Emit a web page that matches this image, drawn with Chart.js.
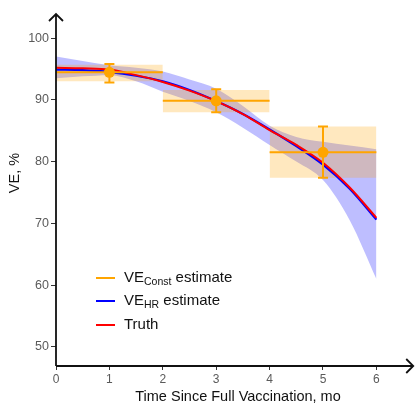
<!DOCTYPE html>
<html>
<head>
<meta charset="utf-8">
<script src="https://cdn.jsdelivr.net/npm/chart.js@4/dist/chart.umd.min.js"></script>
<style>
    html, body { margin: 0; padding: 0; background: #fff; }
    #wrap { width: 415px; height: 404px; position: relative; }
</style>
</head>
<body>
<div id="wrap"><canvas id="grafica"></canvas></div>
<script>
//--------Datos
const tiempos = [0, 0.5, 1, 1.5, 2, 2.5, 3, 3.5, 4, 4.5, 5, 5.5, 6]
const veReal = [95.2, 95.1, 94.9, 94.0, 92.9, 91.5, 89.8, 87.7, 85.1, 82.7, 79.8, 75.8, 70.9]
const veHR = [94.9, 94.8, 94.5, 93.9, 93.0, 91.6, 89.8, 87.7, 85.2, 82.5, 79.5, 75.6, 70.6]
const veHRInf = [93.5, 93.8, 94.0, 93.0, 91.3, 89.8, 88.0, 85.5, 82.7, 80.0, 77.0, 70.5, 61.0]
const veHRSup = [97.0, 96.3, 95.6, 95.2, 94.6, 93.3, 91.8, 89.0, 85.8, 84.0, 83.2, 82.6, 82.0]

const intervaloInicio = [0, 2, 4]
const intervaloFin = [2, 4, 6]
const veConst = [94.45, 89.85, 81.5]
const veConstInf = [93.0, 88.0, 77.4]
const veConstSup = [95.7, 91.6, 85.7]
const tiempoMedio = [1, 3, 5]
const errorInf = [92.8, 88.0, 77.4]
const errorSup = [95.8, 91.7, 85.7]

const ticksX = [0, 1, 2, 3, 4, 5, 6]
const ticksY = [50, 60, 70, 80, 90, 100]
const finFlechaX = 6.69

const NARANJA = '#FFA500'
const fuente = '"Liberation Sans", Arial, sans-serif'

//--------Datasets
const datasets = []

// banda del estimador HR
datasets.push({
    data: tiempos.map((t, i) => ({ x: t, y: veHRInf[i] })),
    borderWidth: 0, pointRadius: 0, fill: false, order: 10,
    cubicInterpolationMode: 'monotone'
})
datasets.push({
    data: tiempos.map((t, i) => ({ x: t, y: veHRSup[i] })),
    borderWidth: 0, pointRadius: 0, order: 10,
    fill: '-1', backgroundColor: 'rgba(40,40,255,0.3)',
    cubicInterpolationMode: 'monotone'
})

// cajas del estimador constante
intervaloInicio.forEach((ini, i) => {
    datasets.push({
        data: [{ x: ini, y: veConstInf[i] }, { x: intervaloFin[i], y: veConstInf[i] }],
        borderWidth: 0, pointRadius: 0, fill: false, order: 9
    })
    datasets.push({
        data: [{ x: ini, y: veConstSup[i] }, { x: intervaloFin[i], y: veConstSup[i] }],
        borderWidth: 0, pointRadius: 0, order: 9,
        fill: '-1', backgroundColor: 'rgba(255,165,0,0.25)'
    })
})

datasets.push({
    data: tiempos.map((t, i) => ({ x: t, y: veHR[i] })),
    borderColor: '#0000FF', borderWidth: 2.2, pointRadius: 0, fill: false, order: 3,
    cubicInterpolationMode: 'monotone'
})
datasets.push({
    data: tiempos.map((t, i) => ({ x: t, y: veReal[i] })),
    borderColor: '#FF0000', borderWidth: 2, pointRadius: 0, fill: false, order: 2,
    cubicInterpolationMode: 'monotone'
})

intervaloInicio.forEach((ini, i) => {
    datasets.push({
        data: [{ x: ini, y: veConst[i] }, { x: intervaloFin[i], y: veConst[i] }],
        borderColor: NARANJA, borderWidth: 2, pointRadius: 0, fill: false, order: 1
    })
})

datasets.push({
    data: tiempoMedio.map((t, i) => ({ x: t, y: veConst[i] })),
    showLine: false, pointRadius: 5.5, pointBackgroundColor: NARANJA,
    pointBorderWidth: 0, order: 0
})

//--------Plugins
const barrasError = {
    id: 'barrasError',
    beforeDatasetDraw(chart, args) {
        if (args.index !== datasets.length - 1) return
        const ctx = chart.ctx
        const x = chart.scales.x, y = chart.scales.y
        ctx.save()
        ctx.strokeStyle = NARANJA
        ctx.lineWidth = 2
        tiempoMedio.forEach((t, i) => {
            const px = x.getPixelForValue(t)
            const y1 = y.getPixelForValue(errorInf[i])
            const y2 = y.getPixelForValue(errorSup[i])
            ctx.beginPath()
            ctx.moveTo(px, y1); ctx.lineTo(px, y2)
            ctx.moveTo(px - 5, y1); ctx.lineTo(px + 5, y1)
            ctx.moveTo(px - 5, y2); ctx.lineTo(px + 5, y2)
            ctx.stroke()
        })
        ctx.restore()
    }
}

const ejesYLeyenda = {
    id: 'ejesYLeyenda',
    afterDraw(chart) {
        const ctx = chart.ctx
        const area = chart.chartArea
        const derecha = chart.scales.x.getPixelForValue(finFlechaX)
        ctx.save()
        // flechas
        ctx.strokeStyle = '#111'
        ctx.lineWidth = 1.8
        ctx.beginPath()
        ctx.moveTo(area.left, area.bottom); ctx.lineTo(area.left, area.top)
        ctx.moveTo(area.left - 7, area.top + 7); ctx.lineTo(area.left, area.top); ctx.lineTo(area.left + 7, area.top + 7)
        ctx.moveTo(area.left, area.bottom); ctx.lineTo(derecha, area.bottom)
        ctx.moveTo(derecha - 7, area.bottom - 7); ctx.lineTo(derecha, area.bottom); ctx.lineTo(derecha - 7, area.bottom + 7)
        ctx.stroke()

        // titulos de ejes
        ctx.fillStyle = '#111'
        ctx.font = '14.5px ' + fuente
        ctx.textAlign = 'center'
        ctx.textBaseline = 'middle'
        ctx.fillText('Time Since Full Vaccination, mo', 238, 397)
        ctx.translate(15, 173)
        ctx.rotate(-Math.PI / 2)
        ctx.fillText('VE, %', 0, 0)
        ctx.restore()

        // leyenda
        const items = [
            { color: NARANJA, base: 'VE', sub: 'Const', resto: ' estimate', y: 278 },
            { color: '#0000FF', base: 'VE', sub: 'HR', resto: ' estimate', y: 301 },
            { color: '#FF0000', base: 'Truth', sub: '', resto: '', y: 325 }
        ]
        ctx.save()
        ctx.textBaseline = 'middle'
        ctx.textAlign = 'left'
        items.forEach(item => {
            ctx.strokeStyle = item.color
            ctx.lineWidth = 2
            ctx.beginPath()
            ctx.moveTo(96, item.y); ctx.lineTo(115, item.y)
            ctx.stroke()
            ctx.fillStyle = '#111'
            let px = 124
            ctx.font = '15px ' + fuente
            ctx.fillText(item.base, px, item.y)
            px += ctx.measureText(item.base).width
            if (item.sub) {
                ctx.font = '10.5px ' + fuente
                ctx.fillText(item.sub, px, item.y + 4)
                px += ctx.measureText(item.sub).width
            }
            if (item.resto) {
                ctx.font = '15px ' + fuente
                ctx.fillText(item.resto, px, item.y)
            }
        })
        ctx.restore()
    }
}

//--------Grafica
const canvaGrafica = document.getElementById('grafica')

const graficaChart = new Chart(canvaGrafica, {
    type: 'line',
    data: { datasets: datasets },
    options: {
        responsive: true,
        maintainAspectRatio: false,
        animation: false,
        layout: { padding: { top: 14, right: 0, left: 0, bottom: 0 } },
        plugins: {
            legend: { display: false },
            tooltip: { enabled: false }
        },
        scales: {
            x: {
                type: 'linear',
                min: 0,
                max: 6.62,
                afterBuildTicks: eje => { eje.ticks = ticksX.map(v => ({ value: v })) },
                afterFit: eje => { eje.height = 38 },
                grid: { drawOnChartArea: false, drawTicks: true, tickLength: 4, color: '#333', lineWidth: 1 },
                border: { display: false },
                ticks: { color: '#5a5a5a', font: { family: fuente, size: 12 }, padding: 2, maxRotation: 0 }
            },
            y: {
                type: 'linear',
                min: 46.9,
                max: 103.9,
                afterBuildTicks: eje => { eje.ticks = ticksY.map(v => ({ value: v })) },
                afterFit: eje => { eje.width = 56 },
                grid: { drawOnChartArea: false, drawTicks: true, tickLength: 5, color: '#333', lineWidth: 1 },
                border: { display: false },
                ticks: { color: '#5a5a5a', font: { family: fuente, size: 12.5 }, padding: 2 }
            }
        }
    },
    plugins: [barrasError, ejesYLeyenda]
})
</script>
</body>
</html>
